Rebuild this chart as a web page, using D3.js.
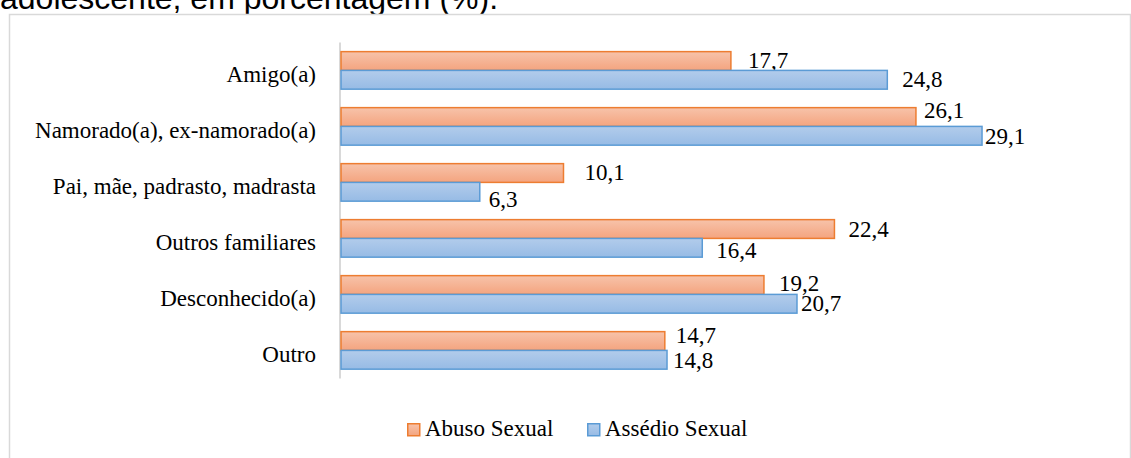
<!DOCTYPE html>
<html>
<head>
<meta charset="utf-8">
<script src="https://cdn.jsdelivr.net/npm/d3@7"></script>
<style>
  body { margin: 0; background: #fff; }
  svg { display: block; }
</style>
</head>
<body>
<div id="chart"></div>
<script>
// categories (top to bottom) and the two series, in %
var categories = ["Amigo(a)", "Namorado(a), ex-namorado(a)", "Pai, mãe, padrasto, madrasta",
                  "Outros familiares", "Desconhecido(a)", "Outro"];
var abuso = [17.7, 26.1, 10.1, 22.4, 19.2, 14.7];
var assedio = [24.8, 29.1, 6.3, 16.4, 20.7, 14.8];
var seriesNames = ["Abuso Sexual", "Assédio Sexual"];
var titleText = "adolescente, em porcentagem (%).";

// label nudges (dx from bar end, dy from bar centre), like the hand-placed labels of the original
var abusoNudge = [[17, -1], [8, -7], [21, -1], [14, 0], [15, -2], [11, -6]];
var assedioNudge = [[15, 0], [3, 1], [9, 8], [14, 3], [4, 0], [6, 1]];

function draw() {
    var w = 1131, h = 458;
    var svg = d3.select("#chart").append("svg")
        .attr("width", w)
        .attr("height", h);

    // gradients for the bar fills
    var defs = svg.append("defs");
    function grad(id, top, bottom) {
        var g = defs.append("linearGradient").attr("id", id)
            .attr("x1", 0).attr("y1", 0).attr("x2", 0).attr("y2", 1);
        g.append("stop").attr("offset", "0%").attr("stop-color", top);
        g.append("stop").attr("offset", "100%").attr("stop-color", bottom);
    }
    grad("gOrange", "#f7c3aa", "#f4a47f");
    grad("gBlue", "#b2cceb", "#97bbe5");

    // title (cut off at the top, as in the picture)
    svg.append("text")
        .attr("x", 0).attr("y", 9)
        .attr("font-family", "Liberation Sans, Arial, sans-serif")
        .attr("font-size", 32)
        .attr("fill", "#000")
        .text(titleText);

    // chart frame
    svg.append("rect")
        .attr("x", 9.5).attr("y", 14.5)
        .attr("width", 1121).attr("height", 460)
        .attr("fill", "#fff")
        .attr("stroke", "#d9d9d9")
        .attr("stroke-width", 1.5);

    var x = d3.scaleLinear().domain([0, 35]).range([341, 1112]);
    var y = d3.scaleBand().domain(categories).range([42.4, 378.4]).paddingInner(0.33).paddingOuter(0.165);
    var bh = y.bandwidth() / 2;

    // vertical axis line
    svg.append("line")
        .attr("x1", 340).attr("x2", 340)
        .attr("y1", 42.4).attr("y2", 378.4)
        .attr("stroke", "#d9d9d9").attr("stroke-width", 2);

    var font = "Liberation Serif, Times New Roman, serif";

    // category labels
    svg.append("g").selectAll("text")
        .data(categories).enter().append("text")
        .attr("x", 316)
        .attr("y", function(d) { return y(d) + y.bandwidth() / 2 + 12; })
        .attr("text-anchor", "end")
        .attr("font-family", font)
        .attr("font-size", 23)
        .attr("fill", "#000")
        .text(function(d) { return d; });

    var series = [
        { name: seriesNames[0], values: abuso, nudge: abusoNudge, fill: "url(#gOrange)", stroke: "#ed7d31", off: 0 },
        { name: seriesNames[1], values: assedio, nudge: assedioNudge, fill: "url(#gBlue)", stroke: "#5b9bd5", off: 1 }
    ];

    series.forEach(function(s) {
        var g = svg.append("g");
        g.selectAll("rect")
            .data(s.values).enter().append("rect")
            .attr("x", x(0))
            .attr("y", function(d, i) { return y(categories[i]) + s.off * bh; })
            .attr("width", function(d) { return x(d) - x(0); })
            .attr("height", bh)
            .attr("fill", s.fill)
            .attr("stroke", s.stroke)
            .attr("stroke-width", 1.5);

        g.selectAll("text")
            .data(s.values).enter().append("text")
            .attr("x", function(d, i) { return x(d) + s.nudge[i][0]; })
            .attr("y", function(d, i) { return y(categories[i]) + s.off * bh + bh / 2 + 7.6 + s.nudge[i][1]; })
            .attr("font-family", font)
            .attr("font-size", 23)
            .attr("fill", "#000")
            .text(function(d) { return d3.format(".1f")(d).replace(".", ","); });
    });

    // legend
    var legend = svg.append("g");
    var lx = [407, 587];
    series.forEach(function(s, i) {
        legend.append("rect")
            .attr("x", lx[i] + 0.75).attr("y", 423.75)
            .attr("width", 12).attr("height", 12)
            .attr("fill", s.fill)
            .attr("stroke", s.stroke)
            .attr("stroke-width", 1.5);
        legend.append("text")
            .attr("x", lx[i] + 18).attr("y", 436)
            .attr("font-family", font)
            .attr("font-size", 23)
            .attr("fill", "#000")
            .text(s.name);
    });
}

window.onload = draw;
</script>
</body>
</html>
